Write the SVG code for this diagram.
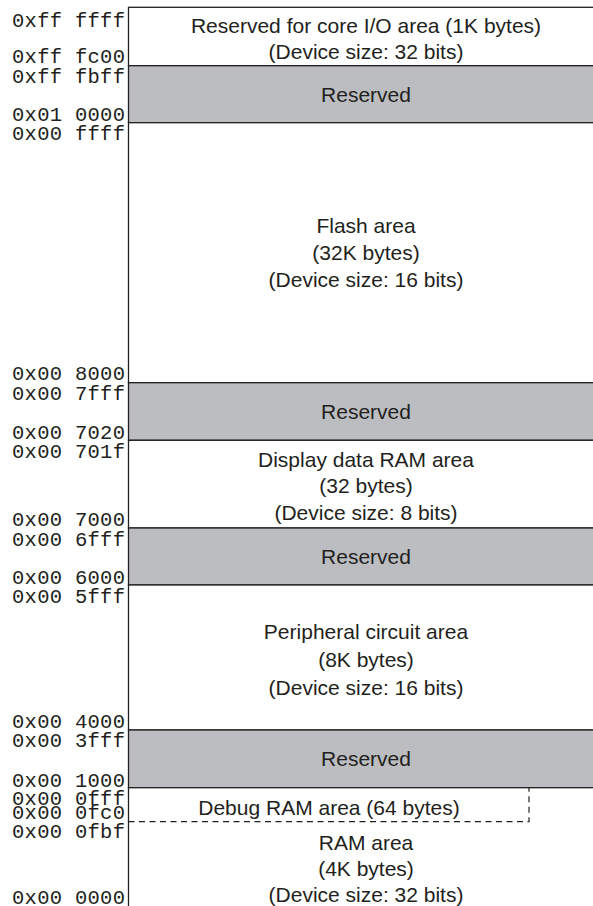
<svg xmlns="http://www.w3.org/2000/svg" width="593" height="906" viewBox="0 0 593 906">
<style>
.addr{font-family:"Liberation Mono",monospace;font-size:20.5px;fill:#231f20;text-anchor:end}
.lbl{font-family:"Liberation Sans",Arial,sans-serif;font-size:21px;fill:#231f20;text-anchor:middle}
.res{fill:#bcbdc0;stroke:#231f20;stroke-width:1.3}
.blk{fill:#ffffff;stroke:#231f20;stroke-width:1.3}
.dash{fill:none;stroke:#231f20;stroke-width:1.2;stroke-dasharray:6 4.5}
</style>
<rect width="593" height="906" fill="#ffffff"/>
<g id="core-io">
<rect class="blk" x="128.5" y="7.3" width="470" height="58.4"/>
<text class="lbl" x="366" y="33">Reserved for core I/O area (1K bytes)</text>
<text class="lbl" x="366" y="58.6">(Device size: 32 bits)</text>
<text class="addr" x="125" y="27" textLength="113">0xff ffff</text>
<text class="addr" x="125" y="63" textLength="113">0xff fc00</text>
</g>
<g id="reserved1">
<rect class="res" x="128.5" y="65.7" width="470" height="57"/>
<text class="lbl" x="366" y="101.5">Reserved</text>
<text class="addr" x="125" y="83" textLength="113">0xff fbff</text>
<text class="addr" x="125" y="121" textLength="113">0x01 0000</text>
</g>
<g id="flash">
<rect class="blk" x="128.5" y="122.7" width="470" height="260"/>
<text class="lbl" x="366" y="233">Flash area</text>
<text class="lbl" x="366" y="260">(32K bytes)</text>
<text class="lbl" x="366" y="287">(Device size: 16 bits)</text>
<text class="addr" x="125" y="140" textLength="113">0x00 ffff</text>
<text class="addr" x="125" y="380" textLength="113">0x00 8000</text>
</g>
<g id="reserved2">
<rect class="res" x="128.5" y="382.7" width="470" height="57.6"/>
<text class="lbl" x="366" y="418.5">Reserved</text>
<text class="addr" x="125" y="400" textLength="113">0x00 7fff</text>
<text class="addr" x="125" y="438.5" textLength="113">0x00 7020</text>
</g>
<g id="display-ram">
<rect class="blk" x="128.5" y="440.3" width="470" height="87.7"/>
<text class="lbl" x="366" y="466.5">Display data RAM area</text>
<text class="lbl" x="366" y="493">(32 bytes)</text>
<text class="lbl" x="366" y="519.5">(Device size: 8 bits)</text>
<text class="addr" x="125" y="458" textLength="113">0x00 701f</text>
<text class="addr" x="125" y="525.5" textLength="113">0x00 7000</text>
</g>
<g id="reserved3">
<rect class="res" x="128.5" y="528" width="470" height="57"/>
<text class="lbl" x="366" y="563.5">Reserved</text>
<text class="addr" x="125" y="546" textLength="113">0x00 6fff</text>
<text class="addr" x="125" y="583.5" textLength="113">0x00 6000</text>
</g>
<g id="peripheral">
<rect class="blk" x="128.5" y="585" width="470" height="145"/>
<text class="lbl" x="366" y="639">Peripheral circuit area</text>
<text class="lbl" x="366" y="667">(8K bytes)</text>
<text class="lbl" x="366" y="695">(Device size: 16 bits)</text>
<text class="addr" x="125" y="603" textLength="113">0x00 5fff</text>
<text class="addr" x="125" y="727.5" textLength="113">0x00 4000</text>
</g>
<g id="reserved4">
<rect class="res" x="128.5" y="730" width="470" height="57.7"/>
<text class="lbl" x="366" y="766">Reserved</text>
<text class="addr" x="125" y="746.5" textLength="113">0x00 3fff</text>
<text class="addr" x="125" y="786.5" textLength="113">0x00 1000</text>
</g>
<g id="ram">
<rect class="blk" x="128.5" y="787.7" width="470" height="130"/>
<text class="lbl" x="366" y="849.5">RAM area</text>
<text class="lbl" x="366" y="876">(4K bytes)</text>
<text class="lbl" x="366" y="902">(Device size: 32 bits)</text>
<text class="addr" x="125" y="837.5" textLength="113">0x00 0fbf</text>
<text class="addr" x="125" y="903.5" textLength="113">0x00 0000</text>
</g>
<g id="debug-ram">
<path class="dash" d="M128.5 821.7 H529 V787.7"/>
<text class="lbl" x="329" y="814.5">Debug RAM area (64 bytes)</text>
<text class="addr" x="125" y="805" textLength="113">0x00 0fff</text>
<text class="addr" x="125" y="819" textLength="113">0x00 0fc0</text>
</g>
</svg>
